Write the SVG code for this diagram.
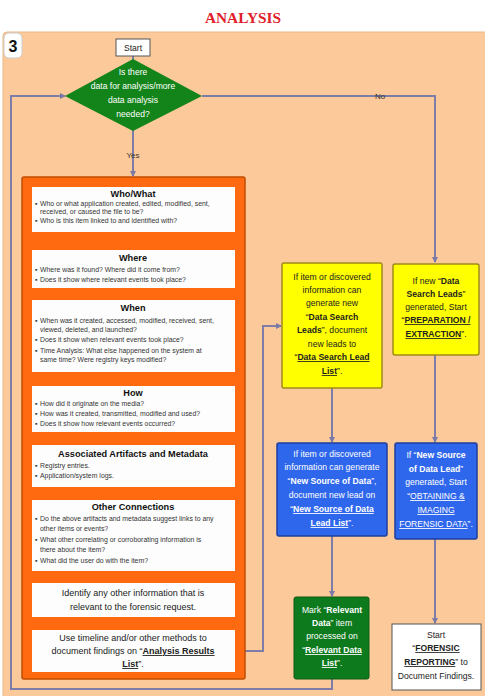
<svg xmlns="http://www.w3.org/2000/svg" width="485" height="696" viewBox="0 0 485 696">
<defs>
<marker id="ah" markerWidth="6" markerHeight="6" refX="5" refY="3" orient="auto" markerUnits="userSpaceOnUse">
<path d="M0,0 L6,3 L0,6 Z" fill="#7A7AA6"/>
</marker>
<marker id="sa" markerWidth="5" markerHeight="5" refX="4" refY="2.5" orient="auto" markerUnits="userSpaceOnUse">
<path d="M0,0 L5,2.5 L0,5 Z" fill="#7A7AA6"/>
</marker>
<style>
.ln{fill:none;stroke:#7D7DA8;stroke-width:2}
.t{font-family:"Liberation Sans",Arial,sans-serif;font-size:8.6px;text-anchor:middle;fill:#222}
.w{fill:#fff}
.b{font-weight:bold}
.u{text-decoration:underline}
.h{font-family:"Liberation Sans",Arial,sans-serif;font-size:9.2px;font-weight:bold;text-anchor:middle;fill:#111}
.s{font-family:"Liberation Sans",Arial,sans-serif;font-size:6.9px;fill:#333}
.ib{fill:#fdfdfd}
</style>
</defs>
<rect width="485" height="696" fill="#ffffff"/>
<text x="243" y="23" font-family="Liberation Serif,serif" font-size="15" font-weight="bold" fill="#E0202A" text-anchor="middle" textLength="76" lengthAdjust="spacingAndGlyphs">ANALYSIS</text>
<rect x="3" y="32" width="490" height="670" rx="4" fill="#FCCA9A" stroke="#E8B886" stroke-width="1"/>
<g id="badge"><rect x="4" y="33" width="18" height="25" rx="5" fill="#fff" stroke="#ccc"/><text x="13" y="52" font-family="Liberation Sans,sans-serif" font-size="16" font-weight="bold" text-anchor="middle" fill="#111">3</text></g>

<g id="connectors">
<path class="ln" d="M133,56 V60"/>
<path class="ln" d="M202,96 H435 V262" marker-end="url(#ah)"/>
<path class="ln" d="M133,130 V176" marker-end="url(#ah)"/>
<path class="ln" d="M332,679 V689 H11 V96 H65" marker-end="url(#ah)"/>
<path class="ln" d="M235,651 H263 V326 H281" marker-end="url(#ah)"/>
<path class="ln" d="M332,388 V442" marker-end="url(#ah)"/>
<path class="ln" d="M435,355 V442" marker-end="url(#ah)"/>
<path class="ln" d="M332,536 V596" marker-end="url(#ah)"/>
<path class="ln" d="M435,539 V623" marker-end="url(#ah)"/>
<path class="ln" d="M133,232 V250" marker-end="url(#sa)"/>
<path class="ln" d="M133,288 V300" marker-end="url(#sa)"/>
<path class="ln" d="M133,372 V386" marker-end="url(#sa)"/>
<path class="ln" d="M133,432 V445" marker-end="url(#sa)"/>
<path class="ln" d="M133,487 V500" marker-end="url(#sa)"/>
<path class="ln" d="M133,571 V583" marker-end="url(#sa)"/>
<path class="ln" d="M133,617 V630" marker-end="url(#sa)"/>
<text x="380" y="99" font-family="Liberation Sans,sans-serif" font-size="8" text-anchor="middle" fill="#333">No</text>
<text x="133" y="158" font-family="Liberation Sans,sans-serif" font-size="8" text-anchor="middle" fill="#333">Yes</text>
</g>

<g id="start"><rect x="116" y="39" width="34" height="17" fill="#fff" stroke="#555" stroke-width="1"/><text class="t" x="133" y="51">Start</text></g>

<g id="decision">
<polygon points="133,59 202,96 133,131 65,96" fill="#13841A"/>
<text class="t w" x="133" y="75">Is there</text>
<text class="t w" x="133" y="89">data for analysis/more</text>
<text class="t w" x="133" y="103">data analysis</text>
<text class="t w" x="133" y="117">needed?</text>
</g>

<g id="analysis-container">
<rect x="22" y="177" width="223" height="502" rx="2" fill="#FF6A10" stroke="#C24C00" stroke-width="1.5"/>
</g>

<g id="who-what">
<rect class="ib" x="32" y="187" width="203" height="45"/>
<text class="h" x="133" y="197">Who/What</text>
<text class="s" x="35" y="206">▪ <tspan x="40">Who or what application created, edited, modified, sent,</tspan></text>
<text class="s" x="40" y="214">received, or caused the file to be?</text>
<text class="s" x="35" y="223">▪ <tspan x="40">Who is this item linked to and identified with?</tspan></text>
</g>

<g id="where">
<rect class="ib" x="32" y="250" width="203" height="38"/>
<text class="h" x="133" y="261">Where</text>
<text class="s" x="35" y="272">▪ <tspan x="40">Where was it found? Where did it come from?</tspan></text>
<text class="s" x="35" y="282">▪ <tspan x="40">Does it show where relevant events took place?</tspan></text>
</g>

<g id="when">
<rect class="ib" x="32" y="300" width="203" height="72"/>
<text class="h" x="133" y="311">When</text>
<text class="s" x="35" y="323">▪ <tspan x="40">When was it created, accessed, modified, received, sent,</tspan></text>
<text class="s" x="40" y="332">viewed, deleted, and launched?</text>
<text class="s" x="35" y="342">▪ <tspan x="40">Does it show when relevant events took place?</tspan></text>
<text class="s" x="35" y="353">▪ <tspan x="40">Time Analysis: What else happened on the system at</tspan></text>
<text class="s" x="40" y="362">same time?  Were registry keys modified?</text>
</g>

<g id="how">
<rect class="ib" x="32" y="386" width="203" height="46"/>
<text class="h" x="133" y="396">How</text>
<text class="s" x="35" y="406">▪ <tspan x="40">How did it originate on the media?</tspan></text>
<text class="s" x="35" y="416">▪ <tspan x="40">How was it created, transmitted, modified and used?</tspan></text>
<text class="s" x="35" y="426">▪ <tspan x="40">Does it show how relevant events occurred?</tspan></text>
</g>

<g id="artifacts">
<rect class="ib" x="32" y="445" width="203" height="42"/>
<text class="h" x="133" y="457">Associated Artifacts and Metadata</text>
<text class="s" x="35" y="468">▪ <tspan x="40">Registry entries.</tspan></text>
<text class="s" x="35" y="478">▪ <tspan x="40">Application/system logs.</tspan></text>
</g>

<g id="other-connections">
<rect class="ib" x="32" y="500" width="203" height="71"/>
<text class="h" x="133" y="510">Other Connections</text>
<text class="s" x="35" y="521">▪ <tspan x="40">Do the above artifacts and metadata suggest links to any</tspan></text>
<text class="s" x="40" y="531">other items or events?</text>
<text class="s" x="35" y="542">▪ <tspan x="40">What other correlating or corroborating information is</tspan></text>
<text class="s" x="40" y="552">there about the item?</text>
<text class="s" x="35" y="563">▪ <tspan x="40">What did the user do with the item?</tspan></text>
</g>

<g id="identify">
<rect class="ib" x="32" y="583" width="203" height="34"/>
<text class="t" x="133" y="596" style="font-size:9px">Identify any other information that is</text>
<text class="t" x="133" y="610" style="font-size:9px">relevant to the forensic request.</text>
</g>

<g id="timeline">
<rect class="ib" x="32" y="630" width="203" height="42"/>
<text class="t" x="133" y="641" style="font-size:9px">Use timeline and/or other methods to</text>
<text class="t" x="133" y="654" style="font-size:9px">document findings on “<tspan class="b u">Analysis Results</tspan></text>
<text class="t" x="133" y="667" style="font-size:9px"><tspan class="b u">List</tspan>”.</text>
</g>

<g id="data-search-leads">
<rect x="282" y="263" width="100" height="125" rx="2" fill="#FFFF00" stroke="#A08A1A" stroke-width="1.5"/>
<text class="t" x="332" y="280">If item or discovered</text>
<text class="t" x="332" y="293">information can</text>
<text class="t" x="332" y="306">generate new</text>
<text class="t" x="332" y="320">“<tspan class="b">Data Search</tspan></text>
<text class="t" x="332" y="333"><tspan class="b">Leads</tspan>”, document</text>
<text class="t" x="332" y="347">new leads to</text>
<text class="t" x="332" y="360">“<tspan class="b u">Data Search Lead</tspan></text>
<text class="t" x="332" y="374"><tspan class="b u">List</tspan>”.</text>
</g>

<g id="start-preparation">
<rect x="393" y="264" width="86" height="91" rx="2" fill="#FFFF00" stroke="#A08A1A" stroke-width="1.5"/>
<text class="t" x="436" y="284">If new “<tspan class="b">Data</tspan></text>
<text class="t" x="436" y="297"><tspan class="b">Search Leads</tspan>”</text>
<text class="t" x="436" y="310">generated, Start</text>
<text class="t" x="436" y="323">“<tspan class="b u">PREPARATION /</tspan></text>
<text class="t" x="436" y="337"><tspan class="b u">EXTRACTION</tspan>”.</text>
</g>

<g id="new-source">
<rect x="277" y="443" width="110" height="93" rx="2" fill="#2F67EC" stroke="#1E3F9A" stroke-width="1.5"/>
<text class="t w" x="332" y="457">If item or discovered</text>
<text class="t w" x="332" y="470">information can generate</text>
<text class="t w" x="332" y="484">“<tspan class="b">New Source of Data</tspan>”,</text>
<text class="t w" x="332" y="498">document new lead on</text>
<text class="t w" x="332" y="512">“<tspan class="b u">New Source of Data</tspan></text>
<text class="t w" x="332" y="526"><tspan class="b u">Lead List</tspan>”.</text>
</g>

<g id="start-obtaining">
<rect x="395" y="443" width="82" height="96" rx="2" fill="#2F67EC" stroke="#1E3F9A" stroke-width="1.5"/>
<text class="t w" x="436" y="458">If “<tspan class="b">New Source</tspan></text>
<text class="t w" x="436" y="472"><tspan class="b">of Data Lead</tspan>”</text>
<text class="t w" x="436" y="485">generated, Start</text>
<text class="t w" x="436" y="499">“<tspan class="u">OBTAINING &amp;</tspan></text>
<text class="t w" x="436" y="513"><tspan class="u">IMAGING</tspan></text>
<text class="t w" x="436" y="527"><tspan class="u">FORENSIC DATA</tspan>”.</text>
</g>

<g id="relevant-data">
<rect x="294" y="597" width="75" height="82" rx="2" fill="#0E7A1E" stroke="#0A5A14" stroke-width="1"/>
<text class="t w" x="332" y="613">Mark “<tspan class="b">Relevant</tspan></text>
<text class="t w" x="332" y="626"><tspan class="b">Data</tspan>” item</text>
<text class="t w" x="332" y="639">processed on</text>
<text class="t w" x="332" y="653">“<tspan class="b u">Relevant Data</tspan></text>
<text class="t w" x="332" y="666"><tspan class="b u">List</tspan>”.</text>
</g>

<g id="start-reporting">
<rect x="392" y="624" width="89" height="66" fill="#fff" stroke="#555" stroke-width="1"/>
<text class="t" x="436" y="638">Start</text>
<text class="t" x="436" y="651">“<tspan class="b u">FORENSIC</tspan></text>
<text class="t" x="436" y="665"><tspan class="b u">REPORTING</tspan>” to</text>
<text class="t" x="436" y="679">Document Findings.</text>
</g>
</svg>
